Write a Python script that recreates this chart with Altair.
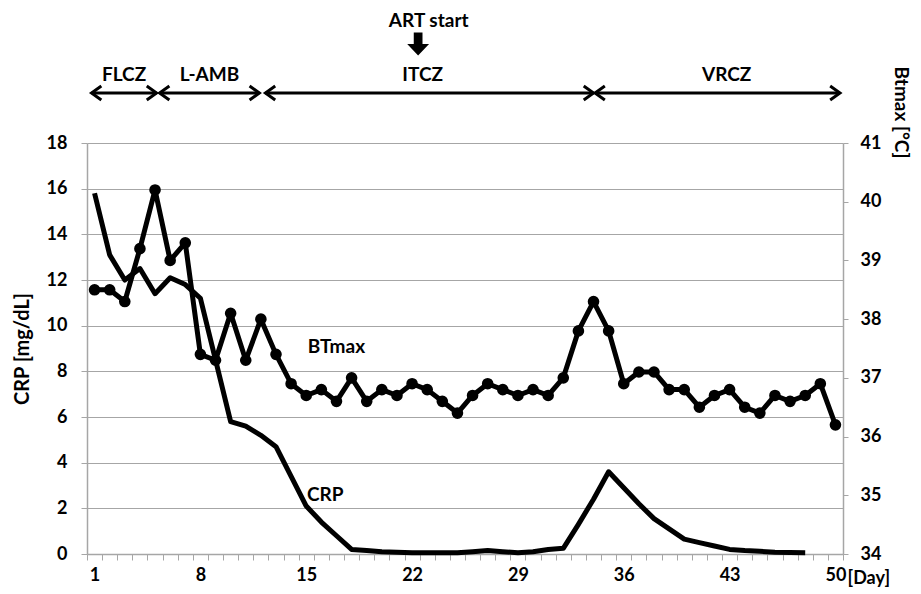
import altair as alt
import pandas as pd

# ---------------- data ----------------
DAYS = list(range(1, 51))
CRP = [15.8, 13.1, 12.0, 12.5, 11.4, 12.1, 11.8, 11.2, 8.5, 5.8,
       5.6, 5.2, 4.7, 3.4, 2.1, 1.4, 0.8, 0.2, 0.15, 0.1,
       0.08, 0.05, 0.05, 0.05, 0.05, 0.1, 0.15, 0.1, 0.05, 0.1,
       0.2, 0.25, 1.3, 2.4, 3.6, 2.9, 2.2, 1.55, 1.1, 0.65,
       0.5, 0.35, 0.2, 0.15, 0.12, 0.08, 0.07, 0.06]
BTMAX = [38.5, 38.5, 38.3, 39.2, 40.2, 39.0, 39.3, 37.4, 37.3, 38.1,
         37.3, 38.0, 37.4, 36.9, 36.7, 36.8, 36.6, 37.0, 36.6, 36.8,
         36.7, 36.9, 36.8, 36.6, 36.4, 36.7, 36.9, 36.8, 36.7, 36.8,
         36.7, 37.0, 37.8, 38.3, 37.8, 36.9, 37.1, 37.1, 36.8, 36.8,
         36.5, 36.7, 36.8, 36.5, 36.4, 36.7, 36.6, 36.7, 36.9, 36.2]
X_TICK_LABELS = [1, 8, 15, 22, 29, 36, 43, 50]
CRP_TICKS = [0, 2, 4, 6, 8, 10, 12, 14, 16, 18]
BT_TICKS = [34, 35, 36, 37, 38, 39, 40, 41]

PHASES = ["FLCZ", "L-AMB", "ITCZ", "VRCZ"]
PHASE_START = [0.8, 5.3, 12.3, 34.1]
PHASE_END = [5.1, 11.9, 34.0, 50.3]
PHASE_LABEL_DAY = [2.95, 8.6, 22.7, 42.8]
ART_LABEL = "ART start"
ART_DAY = 22.4
ART_LABEL_DAY = 23.1
SERIES_LABELS = ["CRP", "BTmax"]
SERIES_LABEL_DAY = [15.05, 15.1]
CRP_LABEL_VALUE = 2.6
BT_LABEL_VALUE = 37.53

# ---------------- layout ----------------
W, H = 756, 411
FONT = "Lato"
GRID = "#a6a6a6"

crp_df = pd.DataFrame({"day": DAYS[:len(CRP)], "crp": CRP})
bt_df = pd.DataFrame({"day": DAYS, "bt": BTMAX})
phase_df = pd.DataFrame({"phase": PHASES, "start": PHASE_START,
                         "end": PHASE_END, "label_day": PHASE_LABEL_DAY})
art_df = pd.DataFrame({"label": [ART_LABEL], "arrow_day": [ART_DAY],
                       "label_day": [ART_LABEL_DAY]})
crp_lab_df = pd.DataFrame({"t": [SERIES_LABELS[0]], "day": [SERIES_LABEL_DAY[0]],
                           "crp": [CRP_LABEL_VALUE]})
bt_lab_df = pd.DataFrame({"t": [SERIES_LABELS[1]], "day": [SERIES_LABEL_DAY[1]],
                          "bt": [BT_LABEL_VALUE]})

x_scale = alt.Scale(domain=[DAYS[0] - 0.5, DAYS[-1] + 0.5], nice=False, zero=False)
x_axis = alt.Axis(
    values=[d - 0.5 for d in DAYS] + [DAYS[-1] + 0.5],
    labelExpr=f"indexof({X_TICK_LABELS}, datum.value + 0.5) >= 0 ? '' + (datum.value + 0.5) : ''",
    labelOffset=W / len(DAYS) / 2,
    labelFlush=False, labelOverlap=False, labelBound=False,
    labelPadding=6, labelFontSize=18,
    tickSize=6, tickColor=GRID, domainColor=GRID, domainWidth=1.5,
    grid=False,
    title="[Day]", titleX=W + 4, titleY=24, titleAlign="left",
    titleBaseline="middle", titleFontSize=18, titleAnchor="start",
)


def xe(field):
    return alt.X(f"{field}:Q", scale=x_scale, axis=x_axis)


crp_y = alt.Y("crp:Q", scale=alt.Scale(domain=[0, 18], nice=False, zero=False),
              axis=alt.Axis(values=CRP_TICKS, orient="left", grid=True,
                            gridColor=GRID, gridWidth=1.2, tickSize=6,
                            tickColor=GRID, domainColor=GRID, domainWidth=1.5,
                            labelPadding=14, labelFontSize=18,
                            title="CRP [mg/dL]", titleFontSize=20,
                            titleX=-65, titleY=H / 2, titleAngle=-90,
                            titleAlign="center", titleBaseline="middle"))
bt_y = alt.Y("bt:Q", scale=alt.Scale(domain=[34, 41], nice=False, zero=False),
             axis=alt.Axis(values=BT_TICKS, orient="right", grid=False,
                           tickSize=5, tickColor=GRID, domainColor=GRID,
                           domainWidth=1.5, labelPadding=12, labelFontSize=18,
                           title="Btmax [°C]", titleFontSize=19,
                           titleX=57, titleY=-31, titleAngle=90,
                           titleAlign="center", titleBaseline="middle"))

crp_line = alt.Chart(crp_df).mark_line(color="black", strokeWidth=5,
                                       strokeJoin="round").encode(x=xe("day"), y=crp_y)
crp_text = alt.Chart(crp_lab_df).mark_text(font=FONT, fontWeight="bold", fontSize=19,
                                           align="left", baseline="middle",
                                           color="black").encode(
    x=xe("day"), y=crp_y, text="t:N")
left = alt.layer(crp_line, crp_text)

bt_line = alt.Chart(bt_df).mark_line(color="black", strokeWidth=5,
                                     strokeJoin="round").encode(x=xe("day"), y=bt_y)
bt_pts = alt.Chart(bt_df).mark_circle(color="black", size=135, opacity=1).encode(
    x=xe("day"), y=bt_y)
bt_text = alt.Chart(bt_lab_df).mark_text(font=FONT, fontWeight="bold", fontSize=19,
                                         align="left", baseline="middle",
                                         color="black").encode(
    x=xe("day"), y=bt_y, text="t:N")
right = alt.layer(bt_line, bt_pts, bt_text)

LEFT_CHEVRON = "M1.4,-1 L0,0 L1.4,1"
RIGHT_CHEVRON = "M-1.4,-1 L0,0 L-1.4,1"
DOWN_ARROW = "M-0.38,-1 L0.38,-1 L0.38,0 L0.95,0 L0,1 L-0.95,0 L-0.38,0 Z"

ARROW_Y = -50
phase_rule = alt.Chart(phase_df).mark_rule(color="black", strokeWidth=3).encode(
    x=xe("start"), x2="end:Q", y=alt.value(ARROW_Y))
left_heads = alt.Chart(phase_df).mark_point(
    shape=LEFT_CHEVRON, size=196, filled=False, color="black", strokeWidth=3,
    opacity=1).encode(x=xe("start"), y=alt.value(ARROW_Y))
right_heads = alt.Chart(phase_df).mark_point(
    shape=RIGHT_CHEVRON, size=196, filled=False, color="black", strokeWidth=3,
    opacity=1).encode(x=xe("end"), y=alt.value(ARROW_Y))
phase_text = alt.Chart(phase_df).mark_text(
    font=FONT, fontWeight="bold", fontSize=19, color="black",
    baseline="middle").encode(x=xe("label_day"), y=alt.value(-68), text="phase:N")
art_arrow = alt.Chart(art_df).mark_point(
    shape=DOWN_ARROW, size=529, filled=True, color="black", opacity=1,
    strokeWidth=0).encode(x=xe("arrow_day"), y=alt.value(-99))
art_text = alt.Chart(art_df).mark_text(
    font=FONT, fontWeight="bold", fontSize=19, color="black",
    baseline="top").encode(x=xe("label_day"), y=alt.value(-131), text="label:N")

annot = alt.layer(phase_rule, left_heads, right_heads, phase_text, art_arrow, art_text)

chart = alt.layer(left, right, annot).resolve_scale(y="independent").properties(
    width=W, height=H,
    padding={"left": 79, "top": 135, "right": 70, "bottom": 40},
    autosize=alt.AutoSizeParams(type="none"),
    background="white",
).configure_view(strokeWidth=0).configure_axis(
    labelFont=FONT, titleFont=FONT, labelFontWeight="bold",
    titleFontWeight="bold", labelColor="black", titleColor="black",
)

chart.save("out.html", embed_options={"renderer": "svg", "actions": False})
